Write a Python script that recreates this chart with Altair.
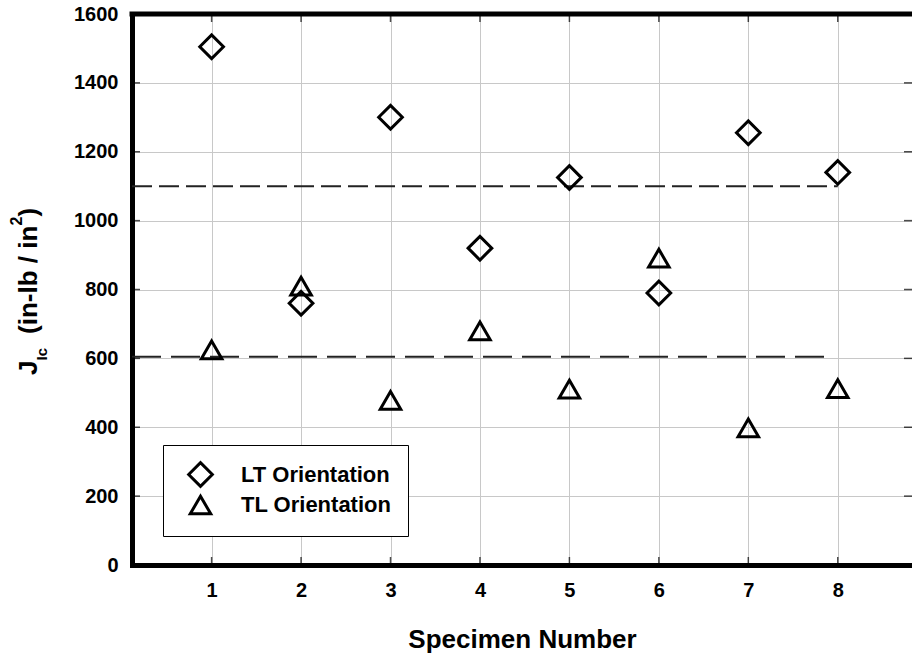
import altair as alt
import pandas as pd

# ---- data ----
specimens = [1, 2, 3, 4, 5, 6, 7, 8]
lt_values = [1505, 760, 1300, 920, 1125, 790, 1255, 1140]
tl_values = [625, 810, 478, 680, 511, 891, 398, 512]
series_names = ["LT Orientation", "TL Orientation"]
x_tick_values = [1, 2, 3, 4, 5, 6, 7, 8]
y_tick_values = [0, 200, 400, 600, 800, 1000, 1200, 1400, 1600]
x_domain = [0.11, 8.83]
y_domain = [0, 1600]
lt_mean = 1100
lt_mean_span = [0.11, 8.0]
tl_mean = 605
tl_mean_span = [0.11, 7.9]

FONT = "Liberation Sans"

points = pd.DataFrame({
    "x": specimens + specimens,
    "y": lt_values + tl_values,
    "series": [series_names[0]] * len(specimens) + [series_names[1]] * len(specimens),
})

W, H = 780, 551

x_axis = alt.Axis(values=x_tick_values, format="d", title="Specimen Number")
y_axis = alt.Axis(values=y_tick_values, format="d", title=None)


def X(field="x"):
    return alt.X(f"{field}:Q", scale=alt.Scale(domain=x_domain, nice=False, zero=False), axis=x_axis)


def Y(field="y"):
    return alt.Y(f"{field}:Q", scale=alt.Scale(domain=y_domain, nice=False), axis=y_axis)


pts = alt.Chart(points).mark_point(filled=False, strokeWidth=3, color="black", opacity=1).encode(
    x=X(),
    y=Y(),
    shape=alt.Shape("series:N", scale=alt.Scale(domain=series_names, range=["diamond", "triangle-up"]),
                    legend=alt.Legend(title=None)),
    size=alt.Size("series:N", scale=alt.Scale(domain=series_names, range=[560, 420]),
                  legend=alt.Legend(title=None)),
)

upper = alt.Chart(pd.DataFrame({"x": [lt_mean_span[0]], "x2": [lt_mean_span[1]], "y": [lt_mean]})).mark_rule(
    color="#222222", strokeWidth=2, strokeDash=[20, 7]
).encode(x=X(), x2="x2:Q", y=Y())

lower = alt.Chart(pd.DataFrame({"x": [tl_mean_span[0]], "x2": [tl_mean_span[1]], "y": [tl_mean]})).mark_rule(
    color="#222222", strokeWidth=2, strokeDash=[29, 10]
).encode(x=X(), x2="x2:Q", y=Y())

top_frame = alt.Chart(pd.DataFrame({"y": [y_domain[1]]})).mark_rule(
    color="black", strokeWidth=5, strokeCap="square"
).encode(y=Y())

yt = pd.DataFrame({"y": y_tick_values})
xt = pd.DataFrame({"x": x_tick_values})
TK = dict(color="black", thickness=1.5, size=8)
tick_left = alt.Chart(yt).mark_tick(**TK).encode(y=Y(), x=alt.value(4))
tick_right = alt.Chart(yt).mark_tick(**TK).encode(y=Y(), x=alt.value(W - 4))
tick_bottom = alt.Chart(xt).mark_tick(**TK).encode(x=X(), y=alt.value(H - 4))
tick_top = alt.Chart(xt).mark_tick(**TK).encode(x=X(), y=alt.value(4))

one = pd.DataFrame({"k": [0]})


def ytitle(text, size, xpos, ypos):
    return alt.Chart(one).mark_text(
        text=text, angle=270, align="left", baseline="alphabetic",
        font=FONT, fontWeight="bold", fontSize=size, color="black"
    ).encode(x=alt.value(xpos), y=alt.value(ypos))


title_parts = [
    ytitle("J", 26, -95, 361),
    ytitle("Ic", 15, -85, 346.5),
    ytitle("(in-lb / in", 26, -95, 320),
    ytitle("2", 16, -110, 211.5),
    ytitle(")", 26, -95, 202.5),
]

chart = alt.layer(
    upper, lower, top_frame, tick_left, tick_right, tick_bottom, tick_top, pts, *title_parts
).properties(
    width=W, height=H,
    autosize=alt.AutoSizeParams(type="none"),
    padding={"left": 132, "top": 14, "right": 0, "bottom": 91},
).configure_view(
    stroke=None
).configure_axis(
    labelFont=FONT, labelFontWeight="bold", labelColor="black",
    titleFont=FONT, titleFontWeight="bold", titleColor="black",
    domainColor="black", domainWidth=5, domainCap="square",
    gridColor="#c8c8c8", gridWidth=1, grid=True,
    ticks=False, tickSize=0,
).configure_axisX(
    labelFontSize=20, labelPadding=15, titleFontSize=26,
    titleBaseline="alphabetic", titleY=82,
).configure_axisY(
    labelFontSize=20, labelPadding=14,
).configure_legend(
    orient="none", legendX=31, legendY=431,
    padding=16, strokeColor="black", strokeWidth=1, fillColor="white",
    labelFont=FONT, labelFontWeight="bold", labelFontSize=22, labelColor="black",
    symbolStrokeWidth=3, symbolStrokeColor="black", symbolFillColor="transparent",
    symbolOffset=8, labelOffset=27, rowPadding=-4,
)

chart.save("out.html", embed_options={"renderer": "svg", "actions": False})
